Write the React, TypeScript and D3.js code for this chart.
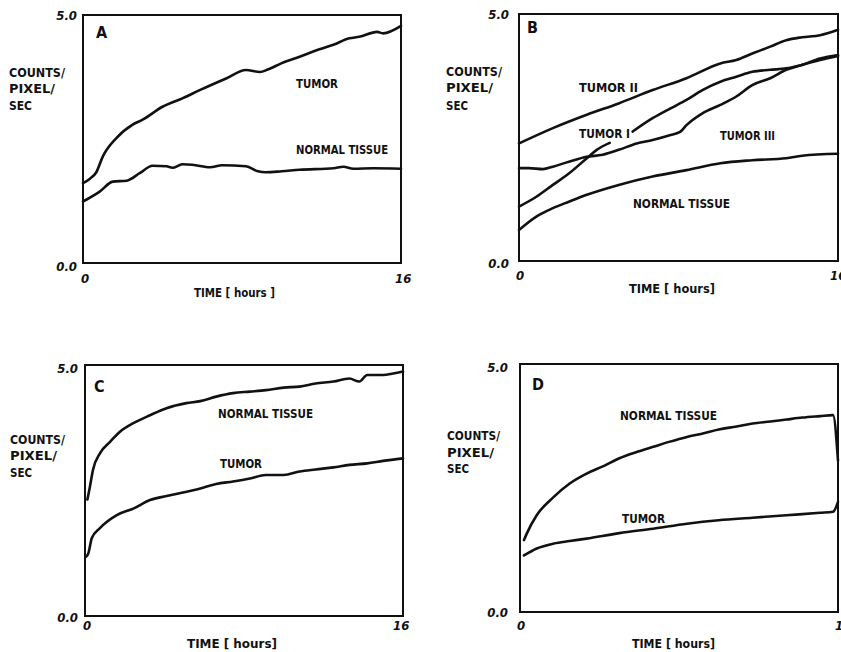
import React from "react";
import * as d3 from "d3";

// ---- data: [hours, counts/pixel/sec] ----
const tumorA: [number, number][] = [[0,1.61],[0.35,1.70],[0.67,1.83],[1,2.15],[1.68,2.52],[2.5,2.79],[3,2.89],[4,3.15],[5,3.32],[5.9,3.49],[7.2,3.72],[8.2,3.89],[8.9,3.85],[9.3,3.90],[10,4.03],[10.9,4.16],[11.9,4.31],[12.6,4.40],[13.4,4.53],[13.9,4.56],[14.8,4.66],[15.1,4.63],[16,4.78]];
const normalA: [number, number][] = [[0,1.24],[0.84,1.44],[1.5,1.64],[2.2,1.66],[2.85,1.81],[3.5,1.96],[4.2,1.95],[4.5,1.92],[5,1.99],[5.5,1.98],[6.4,1.93],[7,1.97],[8.2,1.95],[8.8,1.85],[9.2,1.83],[10,1.85],[10.9,1.88],[12.6,1.91],[13.1,1.94],[13.6,1.90],[14.6,1.91],[16,1.90]];

const tumorIIB: [number, number][] = [[0,2.38],[1.7,2.69],[3.4,2.96],[5,3.19],[6.7,3.46],[8.4,3.70],[10.1,4.00],[10.9,4.07],[11.7,4.20],[12.6,4.34],[13.4,4.47],[14.2,4.53],[15.1,4.57],[16,4.68]];
const tumorIBlow: [number, number][] = [[0,1.10],[0.87,1.30],[1.7,1.54],[2.5,1.77],[3.4,2.08],[3.9,2.25],[4.55,2.39]];
const tumorIBhigh: [number, number][] = [[5.7,2.62],[6.7,2.89],[7.6,3.09],[8.4,3.26],[9.2,3.46],[10.1,3.63],[10.9,3.73],[11.7,3.83],[12.6,3.87],[13.4,3.90],[14.2,3.97],[15.1,4.07],[16,4.15]];
const tumorIIIB: [number, number][] = [[0,1.88],[0.5,1.88],[1.2,1.86],[1.7,1.91],[2.5,2.01],[3.4,2.11],[4.2,2.15],[5,2.25],[5.9,2.38],[6.7,2.45],[7.6,2.55],[8.1,2.62],[8.4,2.75],[9.2,2.99],[10.1,3.16],[10.9,3.33],[11.7,3.56],[12.6,3.70],[13.4,3.87],[14.2,3.97],[15.1,4.10],[16,4.17]];
const normalB: [number, number][] = [[0,0.63],[0.87,0.90],[1.7,1.07],[2.5,1.20],[3.4,1.34],[5,1.54],[6.7,1.71],[8.4,1.84],[10.1,1.98],[11.7,2.04],[13.4,2.08],[14.2,2.13],[16,2.17]];

const normalC: [number, number][] = [[0.12,2.32],[0.25,2.58],[0.4,2.91],[0.75,3.24],[1.26,3.47],[1.76,3.67],[2.43,3.84],[3.27,4.00],[4.1,4.14],[5.1,4.24],[5.8,4.28],[6.6,4.37],[7.45,4.44],[8.3,4.47],[9.1,4.50],[10,4.55],[10.8,4.57],[11.6,4.63],[12.5,4.67],[13.3,4.73],[13.8,4.67],[14.2,4.80],[15,4.80],[15.5,4.83],[16,4.87]];
const tumorC: [number, number][] = [[0.05,1.18],[0.17,1.25],[0.34,1.55],[0.75,1.75],[1.6,2.01],[2.43,2.14],[3.27,2.31],[4.1,2.39],[5.8,2.54],[6.6,2.63],[7.45,2.68],[8.3,2.74],[9.1,2.81],[10,2.81],[10.8,2.88],[11.6,2.92],[12.5,2.96],[13.3,3.01],[14.2,3.04],[15,3.09],[16,3.14]];

const normalD: [number, number][] = [[0.2,1.45],[0.34,1.58],[0.84,1.95],[1.7,2.32],[2.5,2.59],[3.35,2.79],[4.2,2.94],[5,3.10],[5.9,3.23],[6.7,3.33],[7.5,3.43],[8.4,3.53],[9.2,3.60],[10,3.68],[10.9,3.74],[11.7,3.80],[12.6,3.84],[13.4,3.88],[14.2,3.92],[15.1,3.95],[15.75,3.97],[16,3.05]];
const tumorD: [number, number][] = [[0.2,1.14],[0.84,1.28],[1.7,1.38],[2.5,1.43],[3.35,1.48],[5,1.59],[6.7,1.68],[8.4,1.78],[10,1.85],[11.7,1.90],[13.4,1.95],[15.1,2.00],[15.75,2.02],[16,2.22]];

const xDomain: [number, number] = [0, 16];
const yDomain: [number, number] = [0, 5];
const yTickLabels = ["0.0", "5.0"];
const xTickLabels = ["0", "16"];
const yLabelLines = ["COUNTS/", "PIXEL/", "SEC"];

type Lbl = { t: string; x: number; y: number; w: number };
type Panel = {
  letter: string;
  box: { x0: number; x1: number; y0: number; y1: number };
  series: [number, number][][];
  labels: Lbl[];
  yLab: { x: number; y: number[]; w: number[] };
  time: Lbl;
  letterPos: { x: number; y: number };
  tick: { yEnd: number; y5: number; y0: number; x0: number; x16: number; xb: number };
};

const panels: Panel[] = [
  {
    letter: "A",
    box: { x0: 83, x1: 401, y0: 15, y1: 263 },
    series: [tumorA, normalA],
    labels: [
      { t: "TUMOR", x: 296, y: 88, w: 42 },
      { t: "NORMAL TISSUE", x: 296, y: 154, w: 92 },
    ],
    yLab: { x: 9, y: [77, 93, 110], w: [56, 46, 23] },
    time: { t: "TIME [ hours ]", x: 194, y: 297, w: 81 },
    letterPos: { x: 96, y: 38 },
    tick: { yEnd: 77, y5: 20, y0: 271, x0: 81, x16: 395, xb: 283 },
  },
  {
    letter: "B",
    box: { x0: 519, x1: 838, y0: 14, y1: 261 },
    series: [tumorIIB, tumorIBlow, tumorIBhigh, tumorIIIB, normalB],
    labels: [
      { t: "TUMOR II", x: 579, y: 92, w: 59 },
      { t: "TUMOR I", x: 579, y: 138, w: 51 },
      { t: "TUMOR III", x: 720, y: 140, w: 55 },
      { t: "NORMAL TISSUE", x: 633, y: 208, w: 97 },
    ],
    yLab: { x: 446, y: [76, 92, 110], w: [56, 47, 22] },
    time: { t: "TIME [ hours]", x: 629, y: 293, w: 86 },
    letterPos: { x: 527, y: 33 },
    tick: { yEnd: 509, y5: 19, y0: 268, x0: 516, x16: 830, xb: 280 },
  },
  {
    letter: "C",
    box: { x0: 85, x1: 403, y0: 365, y1: 616 },
    series: [normalC, tumorC],
    labels: [
      { t: "NORMAL TISSUE", x: 218, y: 418, w: 95 },
      { t: "TUMOR", x: 220, y: 468, w: 42 },
    ],
    yLab: { x: 10, y: [444, 460, 477], w: [55, 47, 22] },
    time: { t: "TIME [ hours]", x: 187, y: 648, w: 90 },
    letterPos: { x: 94, y: 392 },
    tick: { yEnd: 78, y5: 373, y0: 622, x0: 83, x16: 393, xb: 630 },
  },
  {
    letter: "D",
    box: { x0: 520, x1: 838, y0: 364, y1: 612 },
    series: [normalD, tumorD],
    labels: [
      { t: "NORMAL TISSUE", x: 620, y: 420, w: 97 },
      { t: "TUMOR", x: 622, y: 523, w: 43 },
    ],
    yLab: { x: 447, y: [440, 457, 473], w: [53, 47, 22] },
    time: { t: "TIME [ hours]", x: 632, y: 648, w: 83 },
    letterPos: { x: 532, y: 390 },
    tick: { yEnd: 508, y5: 372, y0: 617, x0: 517, x16: 835, xb: 630 },
  },
];

const FONT = "'DejaVu Sans Condensed', 'DejaVu Sans', sans-serif";

function PanelView({ p }: { p: Panel }) {
  const x = d3.scaleLinear().domain(xDomain).range([p.box.x0, p.box.x1]);
  const y = d3.scaleLinear().domain(yDomain).range([p.box.y1, p.box.y0]);
  const line = d3
    .line<[number, number]>()
    .x((d) => x(d[0]))
    .y((d) => y(d[1]))
    .curve(d3.curveMonotoneX);
  const txt = (l: Lbl, key: string, size = 13) => (
    <text key={key} x={l.x} y={l.y} textLength={l.w} lengthAdjust="spacingAndGlyphs"
      fontFamily={FONT} fontWeight="bold" fontSize={size} fill="#111">{l.t}</text>
  );
  return (
    <g>
      <rect x={p.box.x0} y={p.box.y0} width={p.box.x1 - p.box.x0} height={p.box.y1 - p.box.y0}
        fill="none" stroke="#111" strokeWidth={2} />
      {p.series.map((s, i) => (
        <path key={i} d={line(s) || ""} fill="none" stroke="#111" strokeWidth={2.6}
          strokeLinejoin="round" strokeLinecap="round" />
      ))}
      {p.labels.map((l, i) => txt(l, "l" + i))}
      {yLabelLines.map((t, i) =>
        txt({ t, x: p.yLab.x, y: p.yLab.y[i], w: p.yLab.w[i] }, "y" + i, 13)
      )}
      {txt(p.time, "time")}
      <text x={p.letterPos.x} y={p.letterPos.y} fontFamily={FONT} fontWeight="bold" fontSize={16} fill="#111">
        {p.letter}
      </text>
      <text x={p.tick.yEnd} y={p.tick.y5} textAnchor="end" fontFamily={FONT} fontWeight="bold"
        fontStyle="italic" fontSize={13} fill="#111">{yTickLabels[1]}</text>
      <text x={p.tick.yEnd} y={p.tick.y0} textAnchor="end" fontFamily={FONT} fontWeight="bold"
        fontStyle="italic" fontSize={13} fill="#111">{yTickLabels[0]}</text>
      <text x={p.tick.x0} y={p.tick.xb} fontFamily={FONT} fontWeight="bold"
        fontStyle="italic" fontSize={13} fill="#111">{xTickLabels[0]}</text>
      <text x={p.tick.x16} y={p.tick.xb} fontFamily={FONT} fontWeight="bold"
        fontStyle="italic" fontSize={13} fill="#111">{xTickLabels[1]}</text>
    </g>
  );
}

export default function App() {
  return (
    <svg width={841} height={652} style={{ position: "absolute", left: 0, top: 0, background: "#fff" }}>
      <rect x={0} y={0} width={841} height={652} fill="#fff" />
      {panels.map((p) => (
        <PanelView key={p.letter} p={p} />
      ))}
    </svg>
  );
}
